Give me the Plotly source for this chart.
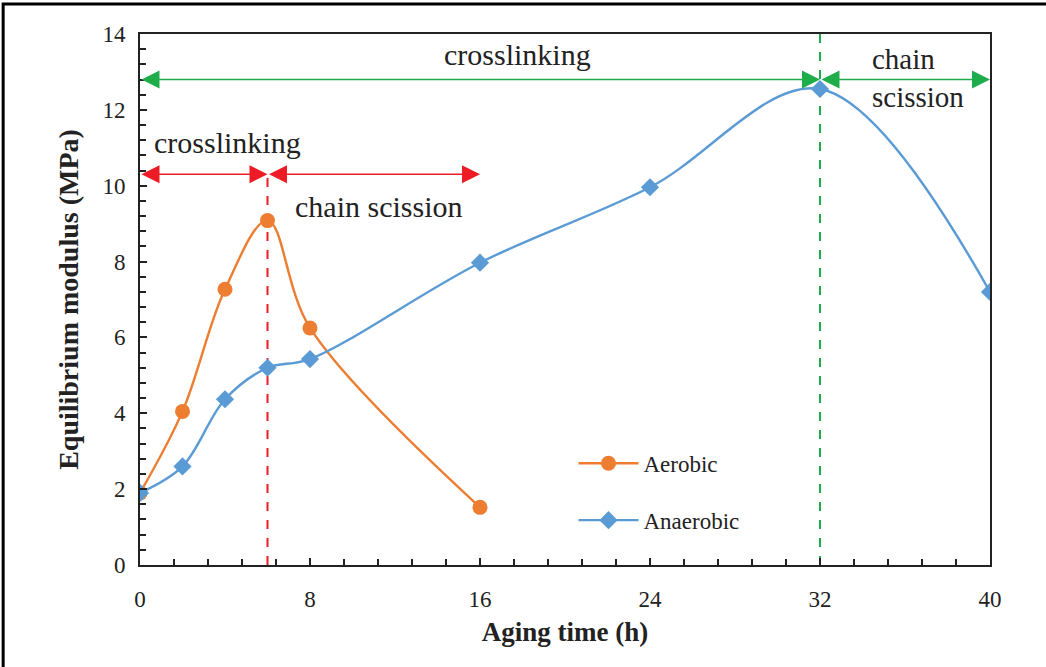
import plotly.graph_objects as go

# Data
aging_time_aerobic = [0, 2, 4, 6, 8, 16]
modulus_aerobic = [1.90, 4.05, 7.27, 9.08, 6.25, 1.52]
aging_time_anaerobic = [0, 2, 4, 6, 8, 16, 24, 32, 40]
modulus_anaerobic = [1.90, 2.60, 4.37, 5.20, 5.43, 7.97, 9.96, 12.55, 7.20]
x_ticks = [0, 8, 16, 24, 32, 40]
y_ticks = [0, 2, 4, 6, 8, 10, 12, 14]

# Region markers
red_arrow_y = 10.3
red_split = 6
red_end = 16
green_arrow_y = 12.8
green_split = 32
green_end = 40

ORANGE = "#ED7D31"
BLUE = "#5B9BD5"
RED = "#ED1C24"
GREEN = "#1FAD4B"
FONT = "Liberation Serif, Times New Roman, serif"
INK = "#222222"

fig = go.Figure()
fig.add_trace(go.Scatter(
    x=aging_time_aerobic, y=modulus_aerobic, name="Aerobic", mode="lines+markers",
    line=dict(color=ORANGE, width=2.4, shape="spline", smoothing=1.0),
    marker=dict(symbol="circle", size=15, color=ORANGE), legendgroup="a"))
fig.add_trace(go.Scatter(
    x=aging_time_anaerobic, y=modulus_anaerobic, name="Anaerobic", mode="lines+markers",
    line=dict(color=BLUE, width=2.4, shape="spline", smoothing=1.0),
    marker=dict(symbol="diamond", size=14, color=BLUE), legendgroup="b"))

# dashed verticals
fig.add_shape(type="line", x0=red_split, x1=red_split, y0=0, y1=red_arrow_y,
              line=dict(color=RED, width=2, dash="dash"), layer="below")
fig.add_shape(type="line", x0=green_split, x1=green_split, y0=0, y1=14,
              line=dict(color=GREEN, width=2, dash="dash"), layer="below")

def dbl_arrow(x0, x1, y, color):
    fig.add_annotation(x=x1, y=y, ax=x0, ay=y, xref="x", yref="y", axref="x", ayref="y",
                       text="", showarrow=True, arrowhead=2, startarrowhead=2,
                       arrowside="end+start", arrowsize=2.4, startarrowsize=2.4,
                       arrowwidth=1.5, arrowcolor=color, standoff=0, startstandoff=0)

dbl_arrow(0, red_split, red_arrow_y, RED)
dbl_arrow(red_split, red_end, red_arrow_y, RED)
dbl_arrow(0, green_split, green_arrow_y, GREEN)
dbl_arrow(green_split, green_end, green_arrow_y, GREEN)

def label(x, y, text, size=30):
    fig.add_annotation(x=x, y=y, text=text, showarrow=False, align="left",
                       font=dict(family=FONT, size=size, color=INK))

label(4.1, 11.15, "crosslinking")
label(11.2, 9.45, "chain scission")
label(17.75, 13.45, "crosslinking")
label(36.6, 12.85, "chain<br>scission", size=29)

# outer border (top + left visible)
fig.add_shape(type="rect", xref="paper", yref="paper", x0=-0.161, x1=1.2, y0=-0.3, y1=1.0565,
              line=dict(color="black", width=3))

axis_common = dict(showgrid=False, zeroline=False, showline=True, linecolor=INK,
                   linewidth=2, mirror=True, ticks="inside", tickcolor=INK,
                   ticklen=7, tickwidth=2,
                   tickfont=dict(family=FONT, size=23, color=INK))
fig.update_xaxes(range=[0, 40], tickvals=x_ticks, **axis_common, ticklabelstandoff=12,
                 minor=dict(dtick=1.6, ticks="inside", ticklen=6, tickcolor=INK, tickwidth=1.5),
                 title=dict(text="<b>Aging time (h)</b>", font=dict(family=FONT, size=27, color=INK),
                            standoff=12))
fig.update_yaxes(range=[0, 14], tickvals=y_ticks, **axis_common, ticklabelstandoff=8,
                 minor=dict(dtick=0.4, ticks="inside", ticklen=6, tickcolor=INK, tickwidth=1.5),
                 title=dict(text="<b>Equilibrium modulus (MPa)</b>", font=dict(family=FONT, size=28, color=INK),
                            standoff=16))

fig.update_layout(
    width=1046, height=667,
    margin=dict(l=140, r=56, t=34, b=102),
    plot_bgcolor="white", paper_bgcolor="white",
    legend=dict(x=0.51, y=0.232, xanchor="left", yanchor="top", bgcolor="rgba(0,0,0,0)",
                font=dict(family=FONT, size=23, color=INK), tracegroupgap=24,
                itemwidth=60),
    showlegend=True,
)

fig.write_html("out.html", config={"displayModeBar": False},
               post_script="document.body.style.margin='0px';document.body.style.overflow='hidden';")
